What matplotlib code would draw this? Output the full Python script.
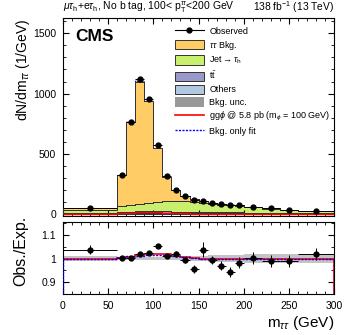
import numpy as np
import matplotlib
matplotlib.use("Agg")
import matplotlib.pyplot as plt
from matplotlib.patches import Patch
from matplotlib.lines import Line2D
from matplotlib.ticker import MultipleLocator, FuncFormatter

plt.rcParams['font.family'] = ['Liberation Sans', 'DejaVu Sans']
plt.rcParams['mathtext.fontset'] = 'custom'
plt.rcParams['mathtext.rm'] = 'Liberation Sans'
plt.rcParams['mathtext.it'] = 'Liberation Sans:italic'
plt.rcParams['mathtext.bf'] = 'Liberation Sans:bold'

# background binning (0-60 drawn as 10 GeV sub-bins)
bkg_edges = [0, 10, 20, 30, 40, 50, 60, 70, 80, 90, 100, 110, 120, 130, 140, 150,
             160, 170, 180, 190, 200, 220, 240, 260, 300]
others = [4, 4, 4, 4, 4, 4, 7, 8, 9, 9, 9, 9, 8, 8, 7, 7, 6, 6, 5, 5, 4, 3, 3, 2]
ttbar = [4, 4, 4, 4, 4, 4, 8, 9, 10, 10, 10, 10, 10, 9, 9, 8, 8, 7, 7, 6, 5, 4, 3, 2]
jet_tau = [21, 21, 21, 21, 21, 21, 50, 58, 64, 73, 81, 87, 90, 89, 82, 75, 67, 61, 57, 53,
           43, 35, 25, 17]
tautau = [19, 19, 19, 19, 19, 19, 256, 688, 1017, 842, 446, 201, 86, 38, 22, 15, 11, 9, 7, 6,
          5, 2, 2, 2]
signal = [0, 0, 0, 0, 0, 0, 3, 8, 13, 15, 13, 8, 4, 2, 0, 0, 0, 0, 0, 0, 0, 0, 0, 0]

# observed data binning
obs_edges = [0, 60, 70, 80, 90, 100, 110, 120, 130, 140, 150, 160, 170, 180, 190, 200,
             220, 240, 260, 300]
observed = [50, 322, 765, 1118, 955, 575, 310, 198, 143, 115, 109, 92, 81, 72, 69, 57, 44, 33, 23]
obs_err = [1, 6, 9, 11, 10, 8, 6, 4, 4, 3, 3, 3, 3, 3, 3, 2, 2, 1, 1]

ratio = [1.037, 1.002, 1.002, 1.019, 1.023, 1.054, 1.011, 1.019, 0.994, 0.955, 1.037,
         0.994, 0.969, 0.944, 0.983, 1.002, 0.990, 0.990, 1.019]
ratio_err = [0.019, 0.006, 0.005, 0.005, 0.005, 0.007, 0.009, 0.012, 0.014, 0.016, 0.032,
             0.018, 0.019, 0.022, 0.022, 0.024, 0.025, 0.026, 0.025]
sig_ratio = [1.0, 1.003, 1.006, 1.014, 1.02, 1.021, 1.02, 1.012, 1.005, 1.002, 1.0,
             1.0, 1.0, 1.0, 1.0, 1.0, 1.0, 1.0, 1.0]
bkgonly_ratio = [1.0, 1.006, 1.009, 1.012, 1.015, 1.016, 1.014, 1.01, 1.006, 1.003, 1.0,
                 1.0, 1.0, 1.0, 1.0, 1.0, 1.0, 1.0, 1.0]
unc_ratio = [0.01, 0.006, 0.006, 0.006, 0.006, 0.006, 0.006, 0.007, 0.008, 0.009, 0.012,
             0.014, 0.015, 0.016, 0.016, 0.018, 0.02, 0.02, 0.018]

c_tt = '#ffcc66'
c_jet = '#c8f06e'
c_ttbar = '#9999cc'
c_oth = '#b0c8e0'

fig = plt.figure(figsize=(3.49, 3.35), dpi=100)
ax = fig.add_axes([0.18, 0.355, 0.778, 0.59])
rax = fig.add_axes([0.18, 0.1215, 0.778, 0.2165])

edges = np.array(bkg_edges)
bottom = np.zeros(len(others))
for vals, col in [(others, c_oth), (ttbar, c_ttbar), (jet_tau, c_jet), (tautau, c_tt)]:
    v = np.array(vals, dtype=float)
    ax.stairs(bottom + v, edges, baseline=bottom, fill=True, facecolor=col,
              edgecolor='none')
    ax.stairs(bottom + v, edges, baseline=bottom, color='#333333', lw=0.7, zorder=3)
    bottom = bottom + v
total = bottom

# bkg uncertainty and bkg-only fit on the stack
ax.stairs(total * 1.008, edges, baseline=total * 0.992, fill=True, facecolor='#888888',
          alpha=0.5, edgecolor='none')
ax.stairs(total * 1.004, edges, color='blue', lw=0.7, ls=(0, (1.5, 1)), zorder=2)
ax.stairs(signal, edges, color='red', lw=1.0, zorder=4)

oe = np.array(obs_edges)
centers = (oe[1:] + oe[:-1]) / 2
halfw = (oe[1:] - oe[:-1]) / 2
ax.errorbar(centers, observed, yerr=obs_err, xerr=halfw, fmt='o', color='black',
            ms=3.5, elinewidth=0.7, capsize=0, zorder=5)

ax.set_xlim(0, 300)
ax.set_ylim(-20, 1625)
ax.yaxis.set_major_locator(MultipleLocator(500))
ax.yaxis.set_minor_locator(MultipleLocator(100))
ax.xaxis.set_major_locator(MultipleLocator(50))
ax.xaxis.set_minor_locator(MultipleLocator(10))
ax.tick_params(axis='x', labelbottom=False)
ax.set_ylabel(r'dN/dm$_{\tau\tau}$ (1/GeV)', fontsize=10, loc='top')
ax.text(0.045, 0.945, 'CMS', transform=ax.transAxes, fontsize=12.5, fontweight='bold',
        va='top', ha='left')
fig.text(0.18, 0.955, r'$\mu\tau_{\rm h}$+e$\tau_{\rm h}$, No b tag, 100< p$_{\rm T}^{\tau\tau}$<200 GeV',
         fontsize=7.5, ha='left', va='bottom')
fig.text(0.958, 0.955, r'138 fb$^{-1}$ (13 TeV)', fontsize=7.4, ha='right', va='bottom')

handles = [
    Line2D([], [], color='black', marker='o', ms=3.5, lw=0.8),
    Patch(facecolor=c_tt, edgecolor='#333333', lw=0.7),
    Patch(facecolor=c_jet, edgecolor='#333333', lw=0.7),
    Patch(facecolor=c_ttbar, edgecolor='#333333', lw=0.7),
    Patch(facecolor=c_oth, edgecolor='#333333', lw=0.7),
    Patch(facecolor='#999999', edgecolor='none'),
    Line2D([], [], color='red', lw=1.2),
    Line2D([], [], color='blue', lw=1.0, ls=(0, (1.5, 1))),
]
labels = ['Observed', r'$\tau\tau$ Bkg.', r'Jet$\rightarrow\tau_{\rm h}$', r't$\bar{\rm t}$',
          'Others', 'Bkg. unc.', r'gg$\phi$ @ 5.8 pb (m$_{\phi}$ = 100 GeV)', 'Bkg. only fit']
ax.legend(handles, labels, loc='upper left', bbox_to_anchor=(0.40, 0.98), frameon=False,
          fontsize=6.5, handlelength=3.2, handleheight=1.2, labelspacing=0.35,
          handletextpad=0.6, borderaxespad=0)

# ratio panel
re = np.array(obs_edges)
rax.stairs(np.array(unc_ratio) + 1, re, baseline=1 - np.array(unc_ratio), fill=True,
           facecolor='#c4c4c4', edgecolor='none')
rax.stairs(bkgonly_ratio, re, color='blue', lw=1.0, ls=(0, (1.5, 1)), zorder=3)
rax.stairs(sig_ratio, re, color='red', lw=1.2, zorder=2)
rax.errorbar(centers, ratio, yerr=ratio_err, xerr=halfw, fmt='o', color='black',
             ms=3.5, elinewidth=0.7, capsize=0, zorder=4)
rax.set_xlim(0, 300)
rax.set_ylim(0.849, 1.156)
rax.yaxis.set_major_locator(MultipleLocator(0.1))
rax.yaxis.set_minor_locator(MultipleLocator(0.05))
rax.yaxis.set_major_formatter(FuncFormatter(lambda v, p: '%g' % round(v, 2)))
rax.xaxis.set_major_locator(MultipleLocator(50))
rax.xaxis.set_minor_locator(MultipleLocator(10))
rax.set_ylabel('Obs./Exp.', fontsize=11.5)
rax.set_xlabel(r'm$_{\tau\tau}$ (GeV)', fontsize=11, loc='right', labelpad=2)

for a in (ax, rax):
    a.tick_params(which='both', direction='in', top=True, right=True, labelsize=7.5, pad=5)
    a.tick_params(which='major', length=4)
    a.tick_params(which='minor', length=2)
    for s in a.spines.values():
        s.set_linewidth(0.8)

ax.yaxis.set_label_coords(-0.115, 1.0)
rax.yaxis.set_label_coords(-0.128, 0.6)

fig.savefig('out.png', dpi=100)
